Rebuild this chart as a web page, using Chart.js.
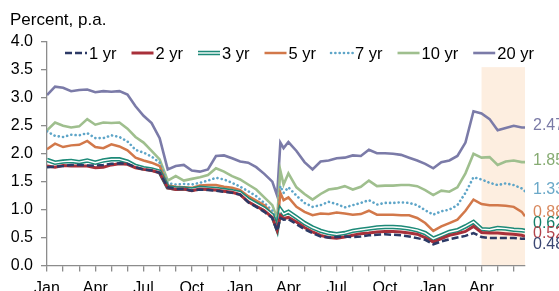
<!DOCTYPE html>
<html>
<head>
<meta charset="utf-8">
<script src="https://cdn.jsdelivr.net/npm/chart.js@4.4.0/dist/chart.umd.min.js"></script>
<style>
  html, body { margin: 0; padding: 0; background: #fff; }
</style>
</head>
<body>
<canvas id="graphique-taux" width="559" height="291"></canvas>
<script>
// months since January of the first year
const months = [0, 0.5, 1, 1.5, 2, 2.5, 3, 3.5, 4, 4.5, 5, 5.5, 6, 6.5, 7, 7.5, 8, 8.5, 9, 9.5,
  10, 10.5, 11, 11.5, 12, 12.5, 13, 13.5, 14, 14.3, 14.5, 14.7, 15, 15.5, 16, 16.5, 17, 17.5,
  18, 18.5, 19, 19.5, 20, 20.5, 21, 21.5, 22, 22.5, 23, 23.5, 24, 24.5, 25, 25.5, 26, 26.5,
  27, 27.5, 28, 28.5, 29, 29.5, 29.7];

const yr1 = [1.76, 1.77, 1.78, 1.80, 1.80, 1.79, 1.79, 1.80, 1.82, 1.83, 1.82, 1.76, 1.72, 1.70, 1.66, 1.40, 1.37, 1.37, 1.34, 1.36,
  1.35, 1.34, 1.32, 1.30, 1.27, 1.13, 1.05, 0.96, 0.85, 0.62, 0.85, 0.82, 0.83, 0.74, 0.65, 0.58, 0.52, 0.50,
  0.51, 0.52, 0.51, 0.52, 0.54, 0.55, 0.56, 0.55, 0.54, 0.52, 0.49, 0.46, 0.38, 0.43, 0.47, 0.50, 0.53, 0.58,
  0.51, 0.49, 0.49, 0.49, 0.49, 0.48, 0.48];
const yr2 = [1.78, 1.76, 1.79, 1.78, 1.78, 1.78, 1.75, 1.76, 1.80, 1.82, 1.81, 1.75, 1.72, 1.70, 1.66, 1.39, 1.36, 1.37, 1.34, 1.37,
  1.36, 1.35, 1.33, 1.31, 1.27, 1.14, 1.06, 0.98, 0.86, 0.63, 0.90, 0.84, 0.86, 0.78, 0.68, 0.60, 0.54, 0.50,
  0.49, 0.51, 0.54, 0.57, 0.58, 0.60, 0.61, 0.61, 0.60, 0.58, 0.56, 0.50, 0.42, 0.48, 0.54, 0.57, 0.61, 0.70,
  0.59, 0.58, 0.58, 0.57, 0.56, 0.54, 0.52];
const yr3 = [1.89, 1.84, 1.86, 1.87, 1.85, 1.88, 1.84, 1.88, 1.90, 1.90, 1.86, 1.78, 1.74, 1.72, 1.68, 1.40, 1.38, 1.38, 1.36, 1.39,
  1.38, 1.37, 1.35, 1.33, 1.30, 1.18, 1.10, 1.02, 0.90, 0.66, 1.00, 0.92, 0.96, 0.86, 0.76, 0.68, 0.62, 0.58,
  0.56, 0.58, 0.62, 0.64, 0.66, 0.68, 0.69, 0.69, 0.68, 0.66, 0.63, 0.58, 0.48, 0.54, 0.60, 0.63, 0.70, 0.78,
  0.65, 0.64, 0.67, 0.66, 0.64, 0.63, 0.62];
const yr5 = [2.08, 2.18, 2.12, 2.15, 2.16, 2.23, 2.12, 2.10, 2.17, 2.13, 2.06, 1.93, 1.88, 1.84, 1.78, 1.43, 1.41, 1.40, 1.39, 1.43,
  1.44, 1.44, 1.41, 1.39, 1.35, 1.24, 1.16, 1.08, 0.92, 0.68, 1.30, 1.17, 1.22, 1.05, 0.96, 0.90, 0.93, 0.92,
  0.95, 0.93, 0.91, 0.92, 0.98, 0.91, 0.91, 0.91, 0.90, 0.90, 0.85, 0.76, 0.62, 0.70, 0.76, 0.82, 0.98, 1.18,
  1.10, 1.08, 1.08, 1.07, 1.05, 0.96, 0.88];
const yr7 = [2.40, 2.32, 2.30, 2.34, 2.33, 2.37, 2.28, 2.28, 2.33, 2.30, 2.22, 2.07, 2.02, 1.95, 1.84, 1.47, 1.45, 1.46, 1.45, 1.48,
  1.52, 1.57, 1.54, 1.48, 1.41, 1.33, 1.24, 1.12, 0.98, 0.78, 1.42, 1.30, 1.40, 1.25, 1.12, 1.05, 1.08, 1.14,
  1.10, 1.04, 1.08, 1.12, 1.17, 1.09, 1.12, 1.12, 1.13, 1.12, 1.08, 0.99, 0.91, 0.97, 1.00, 1.08, 1.30, 1.58,
  1.54, 1.48, 1.44, 1.47, 1.44, 1.38, 1.33];
const yr10 = [2.42, 2.56, 2.50, 2.47, 2.49, 2.62, 2.52, 2.56, 2.55, 2.56, 2.45, 2.30, 2.20, 2.05, 1.90, 1.52, 1.60, 1.52, 1.55, 1.58,
  1.62, 1.74, 1.68, 1.60, 1.54, 1.45, 1.36, 1.22, 1.08, 0.85, 1.70, 1.45, 1.65, 1.40, 1.28, 1.18, 1.28, 1.36,
  1.38, 1.42, 1.36, 1.41, 1.52, 1.42, 1.43, 1.43, 1.44, 1.44, 1.42, 1.35, 1.26, 1.34, 1.32, 1.40, 1.65, 2.00,
  1.93, 1.94, 1.80, 1.86, 1.88, 1.85, 1.85];
const yr20 = [3.05, 3.20, 3.18, 3.12, 3.14, 3.15, 3.10, 3.12, 3.11, 3.12, 3.06, 2.85, 2.68, 2.55, 2.28, 1.72, 1.78, 1.80, 1.70, 1.68,
  1.72, 1.96, 1.97, 1.92, 1.86, 1.84, 1.76, 1.64, 1.50, 1.25, 2.20, 2.10, 2.21, 2.05, 1.85, 1.72, 1.86, 1.88,
  1.92, 1.93, 1.97, 1.96, 2.07, 2.01, 2.01, 2.00, 1.98, 1.93, 1.88, 1.82, 1.74, 1.85, 1.88, 1.96, 2.20, 2.76,
  2.72, 2.62, 2.42, 2.46, 2.50, 2.47, 2.47];

const seriesLabels = ["1 yr", "2 yr", "3 yr", "5 yr", "7 yr", "10 yr", "20 yr"];
const seriesValues = [yr1, yr2, yr3, yr5, yr7, yr10, yr20];
const quarterLabels = ["Jan", "Apr", "Jul", "Oct"];
const yTicks = [0, 0.5, 1, 1.5, 2, 2.5, 3, 3.5, 4];

// shaded period (months) and its top (percent)
const shadeFrom = 27, shadeTo = 29.7, shadeTop = 3.55;

const colors = ["#2c3a66", "#a8303a", "#1d8a78", "#d2784a", "#5ea5c8", "#9fbf8e", "#7b7ba8"];
const labelColors = ["#3b4672", "#b3434b", "#14806a", "#d8875c", "#6aa8c8", "#86ab72", "#7a7aa6"];
const styles = [
  { width: 2.5, dash: [7, 3], cap: "butt" },
  { width: 3, dash: [], cap: "butt" },
  { width: 4.5, dash: [], cap: "butt", double: true },
  { width: 2.5, dash: [], cap: "butt" },
  { width: 2.6, dash: [0.1, 4.2], cap: "round" },
  { width: 2.6, dash: [], cap: "butt" },
  { width: 2.6, dash: [], cap: "butt" }
];
const FONT = "Arial, 'Liberation Sans', sans-serif";

const datasets = [];
for (let i = 0; i < seriesValues.length; i++) {
  const pts = months.map((m, k) => ({ x: m, y: seriesValues[i][k] }));
  datasets.push({
    label: seriesLabels[i],
    data: pts,
    borderColor: colors[i],
    borderWidth: styles[i].width,
    borderDash: styles[i].dash,
    borderCapStyle: styles[i].cap,
    pointRadius: 0,
    tension: 0,
    order: 10 + i
  });
  if (styles[i].double) {
    datasets.push({
      label: "",
      data: pts,
      borderColor: "#ffffff",
      borderWidth: 1.4,
      pointRadius: 0,
      tension: 0,
      order: 9 + i
    });
  }
}

function drawSample(ctx, i, x0, x1, y) {
  const s = styles[i];
  ctx.save();
  ctx.strokeStyle = colors[i];
  ctx.lineWidth = s.width;
  ctx.setLineDash(s.dash);
  ctx.lineCap = s.cap;
  ctx.beginPath();
  ctx.moveTo(x0, y);
  ctx.lineTo(x1, y);
  ctx.stroke();
  if (s.double) {
    ctx.strokeStyle = "#ffffff";
    ctx.lineWidth = 1.4;
    ctx.beginPath();
    ctx.moveTo(x0, y);
    ctx.lineTo(x1, y);
    ctx.stroke();
  }
  ctx.restore();
}

const decorPlugin = {
  id: "decor",
  beforeDraw(chart) {
    const { ctx, scales: { x, y } } = chart;
    const x0 = x.getPixelForValue(shadeFrom), x1 = x.getPixelForValue(shadeTo);
    const y0 = y.getPixelForValue(shadeTop), y1 = y.getPixelForValue(0);
    ctx.save();
    ctx.fillStyle = "#fdeee0";
    ctx.fillRect(x0, y0, x1 - x0, y1 - y0);
    ctx.restore();
  },
  afterDraw(chart) {
    const { ctx, scales: { x, y } } = chart;
    ctx.save();
    // unit title
    ctx.fillStyle = "#000";
    ctx.font = "17px " + FONT;
    ctx.textBaseline = "alphabetic";
    ctx.textAlign = "left";
    ctx.fillText("Percent, p.a.", 10, 25);

    // legend
    ctx.font = "16.5px " + FONT;
    ctx.textBaseline = "middle";
    let lx = 65;
    const ly = 53;
    for (let i = 0; i < seriesLabels.length; i++) {
      drawSample(ctx, i, lx, lx + 22, ly);
      ctx.fillStyle = "#000";
      ctx.fillText(seriesLabels[i], lx + 24, ly + 1);
      lx += 24 + ctx.measureText(seriesLabels[i]).width + 15;
    }

    // end-of-line value labels, spread so they do not overlap
    const last = months.length - 1;
    const items = seriesValues.map((v, i) => ({
      text: v[last].toFixed(2),
      color: labelColors[i],
      y: y.getPixelForValue(v[last]) - 3
    }));
    items.sort((a, b) => a.y - b.y);
    const gap = 10.5;
    for (let it = 0; it < 200; it++) {
      for (let k = 0; k < items.length - 1; k++) {
        const d = items[k + 1].y - items[k].y;
        if (d < gap) {
          const push = (gap - d) / 2;
          items[k].y -= push;
          items[k + 1].y += push;
        }
      }
    }
    ctx.font = "16px " + FONT;
    ctx.textBaseline = "middle";
    const lxEnd = x.right + 8;
    for (const it of items) {
      ctx.fillStyle = it.color;
      ctx.fillText(it.text, lxEnd, it.y + 1);
    }
    ctx.restore();
  }
};

const config = {
  type: "line",
  data: { datasets: datasets },
  options: {
    responsive: false,
    devicePixelRatio: 1,
    animation: false,
    layout: { padding: { top: 42, right: 34, left: 0, bottom: 0 } },
    plugins: { legend: { display: false }, tooltip: { enabled: false } },
    scales: {
      x: {
        type: "linear",
        min: 0,
        max: shadeTo,
        afterFit: (scale) => { scale.height = 25.5; },
        border: { color: "#8c8c8c", width: 1.3 },
        grid: { drawOnChartArea: false, tickLength: 6, color: "#8c8c8c", lineWidth: 1.3 },
        ticks: {
          stepSize: 1,
          maxTicksLimit: 40,
          autoSkip: false,
          maxRotation: 0,
          includeBounds: false,
          padding: 7,
          color: "#000",
          font: { family: FONT, size: 16 },
          callback: (v) => (v % 3 === 0 ? quarterLabels[(v / 3) % 4] : "")
        }
      },
      y: {
        min: 0,
        max: 4,
        afterFit: (scale) => { scale.width = 47; },
        afterBuildTicks: (scale) => { scale.ticks = yTicks.map((v) => ({ value: v })); },
        border: { color: "#8c8c8c", width: 1.3 },
        grid: { drawOnChartArea: false, tickLength: 6, color: "#8c8c8c", lineWidth: 1.3 },
        ticks: {
          padding: 8,
          color: "#000",
          font: { family: FONT, size: 16 },
          callback: (v) => v.toFixed(1)
        }
      }
    }
  },
  plugins: [decorPlugin]
};

const graphiqueTaux = new Chart(document.querySelector("#graphique-taux"), config);
</script>
</body>
</html>
